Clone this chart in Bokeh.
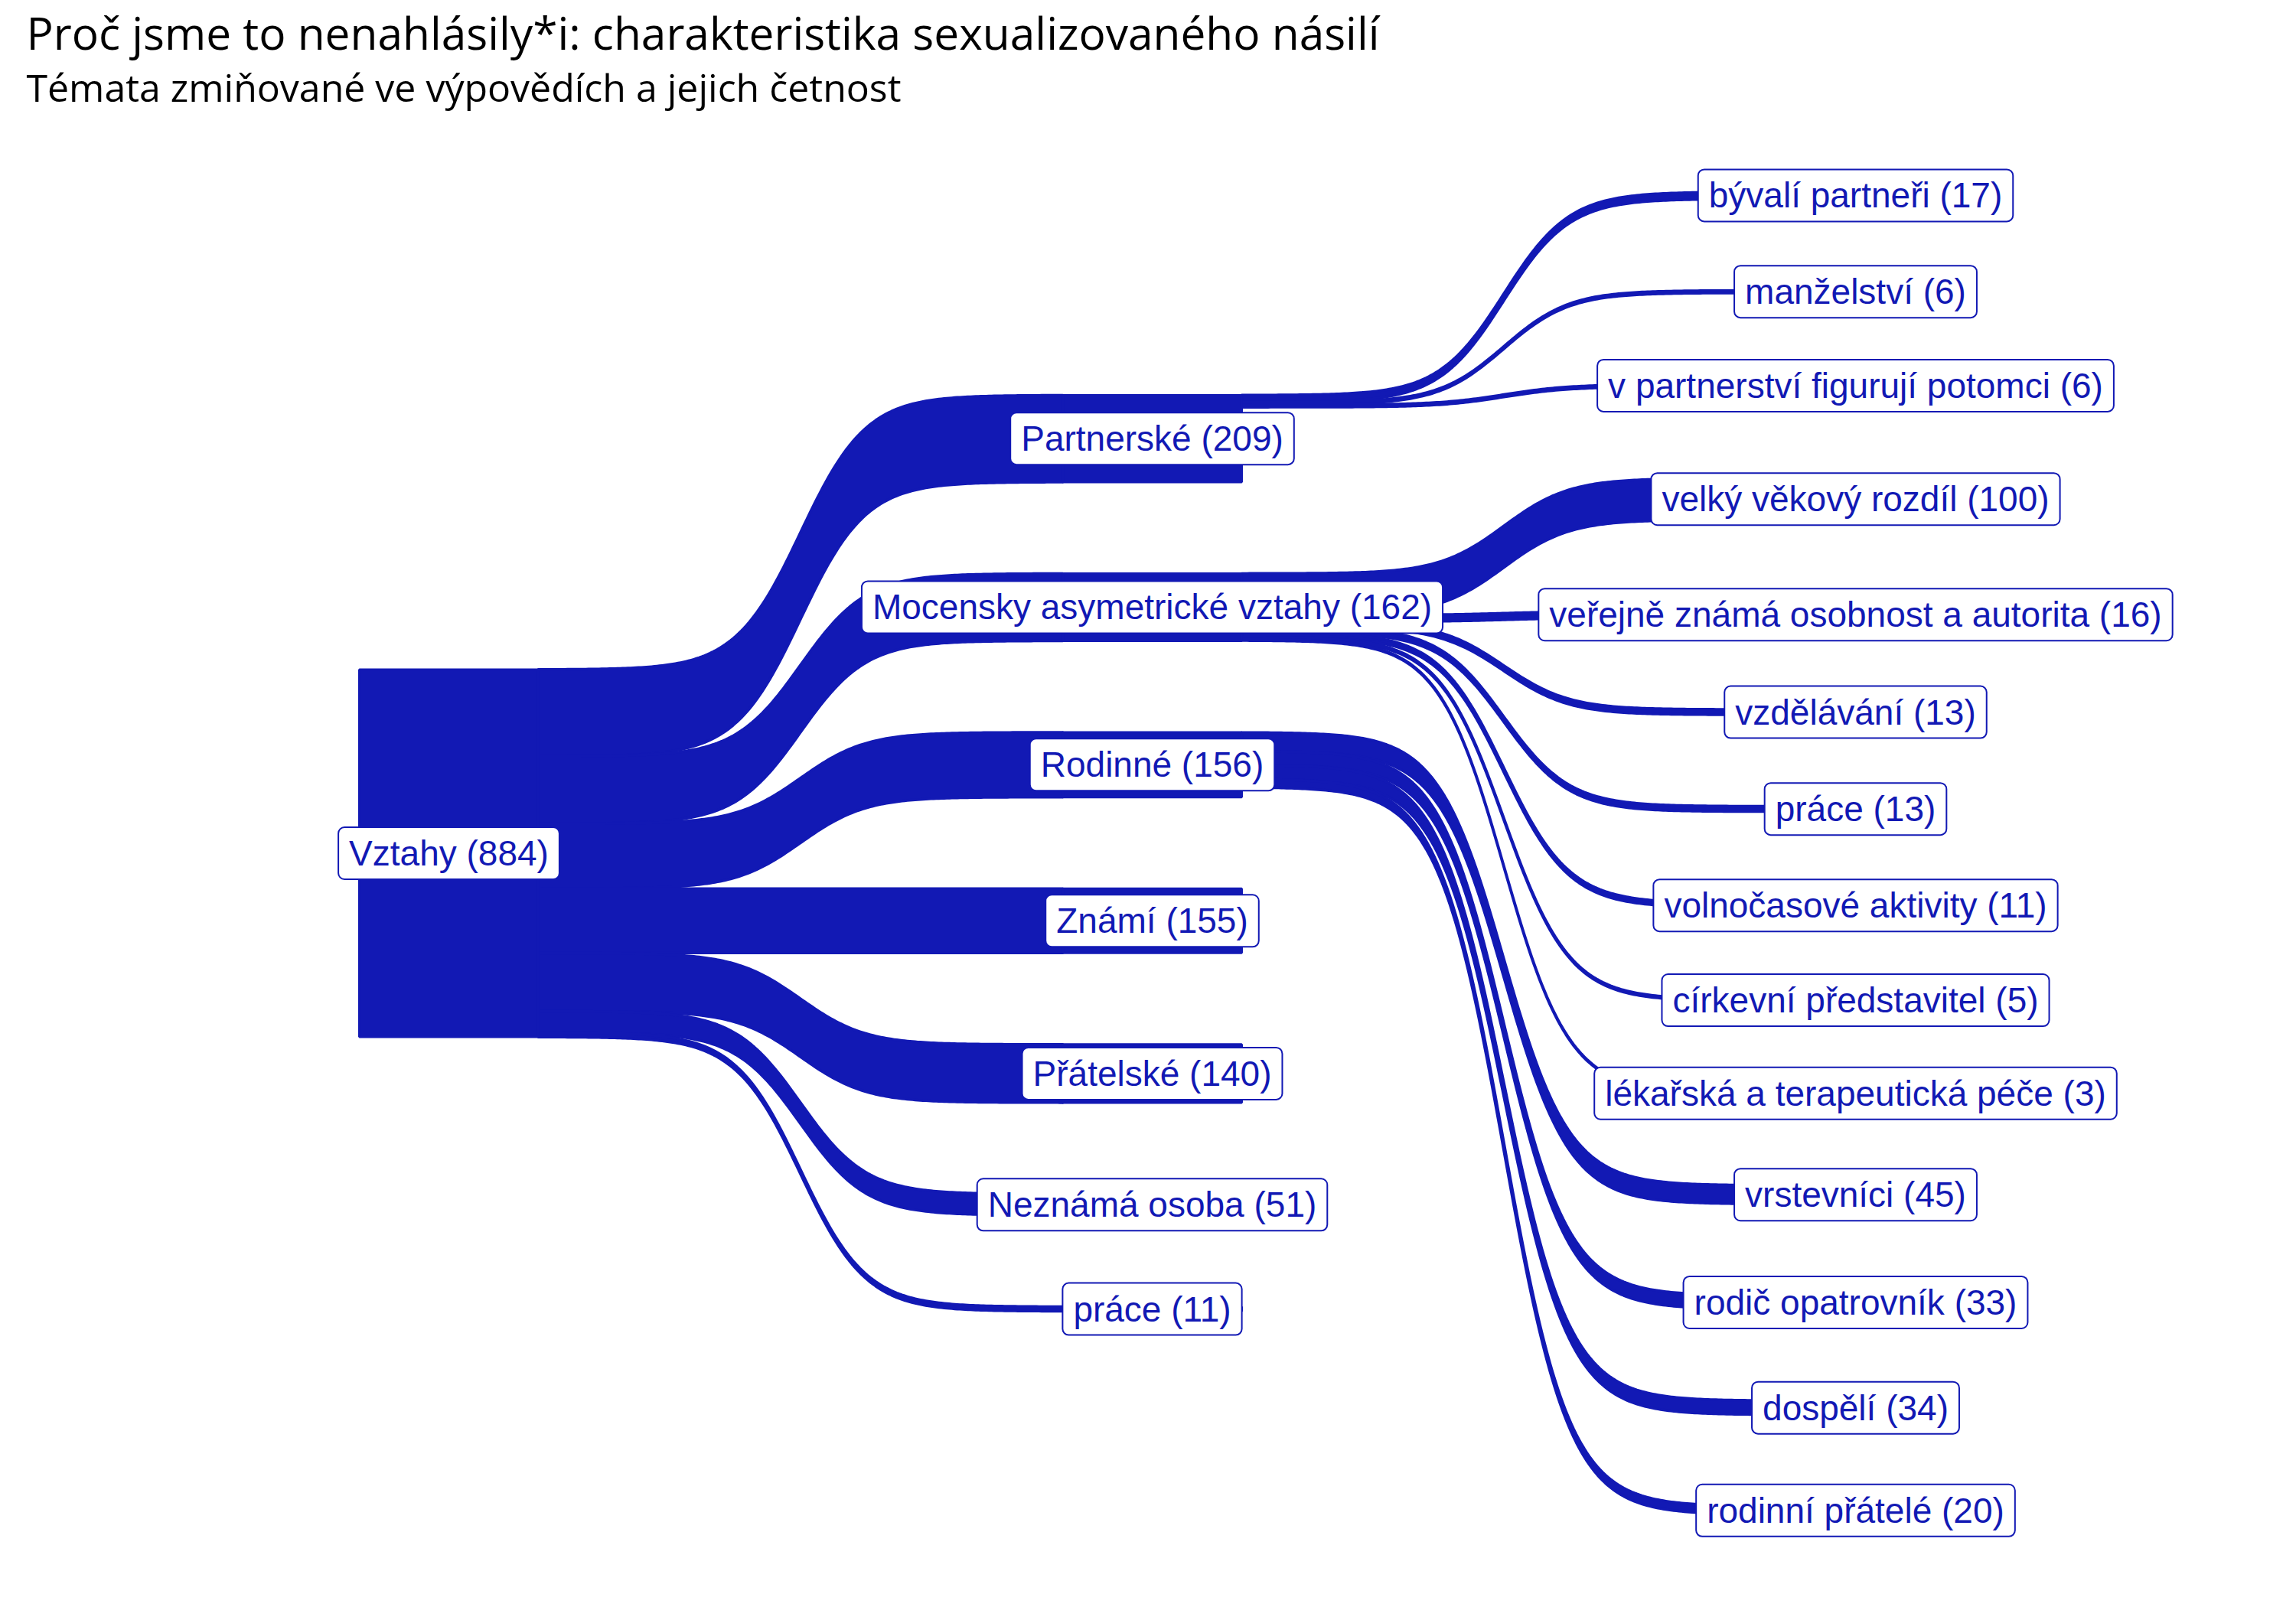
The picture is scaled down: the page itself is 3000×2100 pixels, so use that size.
import numpy as np
from bokeh.plotting import figure
from bokeh.models import ColumnDataSource, Range1d, Label
from bokeh.embed import file_html
from bokeh.resources import INLINE
from bokeh.core.properties import value

# ---------------- data ----------------
TITLE = "Proč jsme to nenahlásily*i: charakteristika sexualizovaného násilí"
SUBTITLE = "Témata zmiňované ve výpovědích a jejich četnost"

root_name = "Vztahy"
root_value = 884

level1_names = ["Partnerské", "Mocensky asymetrické vztahy", "Rodinné", "Známí",
                "Přátelské", "Neznámá osoba", "práce"]
level1_values = [209, 162, 156, 155, 140, 51, 11]

level2_names = ["bývalí partneři", "manželství", "v partnerství figurují potomci",
                "velký věkový rozdíl", "veřejně známá osobnost a autorita", "vzdělávání",
                "práce", "volnočasové aktivity", "církevní představitel",
                "lékařská a terapeutická péče",
                "vrstevníci", "rodič opatrovník", "dospělí", "rodinní přátelé"]
level2_values = [17, 6, 6, 100, 16, 13, 13, 11, 5, 3, 45, 33, 34, 20]
level2_parents = (["Partnerské"] * 3 + ["Mocensky asymetrické vztahy"] * 7 + ["Rodinné"] * 4)

# ---------------- style / layout params ----------------
BLUE = "#1219b4"
NODE_W = 0.2546       # node width in level units
PAD = 220             # vertical gap between nodes, in value units
SMOOTH = 8
W, H = 2984, 2084
X0_PX, DX_PX = 586.0, 919.0      # pixel position of level 0 and level spacing
YC_PX, KY = 1114.5, 0.5432       # pixel center line, px per unit


def px_to_x(px):
    return (px - X0_PX) / DX_PX


def px_to_y(py):
    return (py - YC_PX) / KY


def place(values):
    total = sum(values) + PAD * (len(values) - 1)
    tops = []
    y = -total / 2.0
    for v in values:
        tops.append(y)
        y += v + PAD
    return tops


root_top = place([root_value])[0]
l1_tops = place(level1_values)
l2_tops = place(level2_values)


def sigmoid_band(x0, x1, s0, t0, v, n=200):
    t = np.linspace(-SMOOTH, SMOOTH, n)
    s = 1.0 / (1.0 + np.exp(-t))
    xs = x0 + (t + SMOOTH) / (2 * SMOOTH) * (x1 - x0)
    top = s0 + s * (t0 - s0)
    bot = (s0 + v) + s * ((t0 + v) - (s0 + v))
    return list(np.concatenate([xs, xs[::-1]])), list(np.concatenate([top, bot[::-1]]))


link_xs, link_ys = [], []
# root -> level1
cursor = root_top
for name, v, tt in zip(level1_names, level1_values, l1_tops):
    xs, ys = sigmoid_band(0 + NODE_W / 2, 1 - NODE_W / 2, cursor, tt, v)
    link_xs.append(xs)
    link_ys.append(ys)
    cursor += v
# level1 -> level2
cursors = {n: t for n, t in zip(level1_names, l1_tops)}
for name, v, tt, par in zip(level2_names, level2_values, l2_tops, level2_parents):
    s0 = cursors[par]
    xs, ys = sigmoid_band(1 + NODE_W / 2, 2 - NODE_W / 2, s0, tt, v)
    link_xs.append(xs)
    link_ys.append(ys)
    cursors[par] = s0 + v

node_x = [0] + [1] * len(level1_names) + [2] * len(level2_names)
node_top = [root_top] + l1_tops + l2_tops
node_val = [root_value] + level1_values + level2_values
node_name = [root_name] + level1_names + level2_names

nodes = ColumnDataSource(dict(
    left=[x - NODE_W / 2 for x in node_x],
    right=[x + NODE_W / 2 for x in node_x],
    top=node_top,
    bottom=[t + v for t, v in zip(node_top, node_val)],
    cx=node_x,
    cy=[t + v / 2 for t, v in zip(node_top, node_val)],
    label=[f"{n} ({v})" for n, v in zip(node_name, node_val)],
))

p = figure(width=W, height=H,
           x_range=Range1d(px_to_x(0), px_to_x(W)),
           y_range=Range1d(px_to_y(H), px_to_y(0)),
           x_axis_type=None, y_axis_type=None,
           output_backend="svg", toolbar_location=None, min_border=0)
p.grid.visible = False
p.outline_line_color = None
p.background_fill_color = "white"

p.patches(xs=link_xs, ys=link_ys, fill_color=BLUE, line_color=BLUE, line_width=3.5,
          line_join="round")
p.quad(left="left", right="right", top="top", bottom="bottom", source=nodes,
       fill_color=BLUE, line_color=BLUE, line_width=3)

p.text(x="cx", y="cy", text="label", source=nodes,
       text_align="center", text_baseline="middle",
       text_font=value("Liberation Sans"), text_font_size="46px", text_color=BLUE,
       background_fill_color="white", border_line_color=BLUE, border_line_width=2,
       border_radius=8, padding=(14, 8))

p.add_layout(Label(x=px_to_x(34), y=px_to_y(41), text=TITLE,
                   text_font="Open Sans", text_font_size="58.6px", text_color="black",
                   text_align="left", text_baseline="alphabetic"))
p.add_layout(Label(x=px_to_x(34), y=px_to_y(113), text=SUBTITLE,
                   text_font="Open Sans", text_font_size="50px", text_color="black",
                   text_align="left", text_baseline="alphabetic"))

open("out.html", "w").write(file_html(p, INLINE))
